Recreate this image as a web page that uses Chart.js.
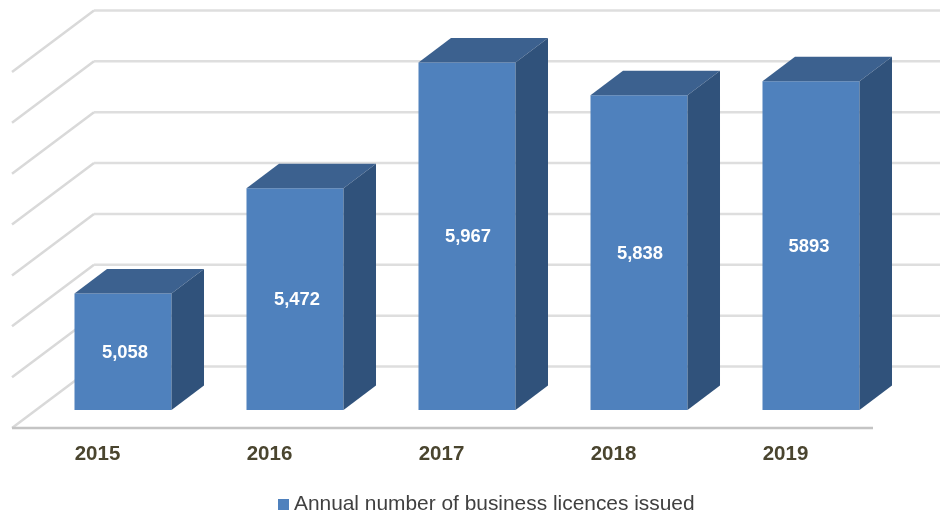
<!DOCTYPE html>
<html>
<head>
<meta charset="utf-8">
<title>Annual number of business licences issued</title>
<script src="https://cdn.jsdelivr.net/npm/chart.js@4"></script>
<style>
    html, body { margin: 0; padding: 0; background: #ffffff; }
    canvas { display: block; }
</style>
</head>
<body>
<canvas id="licencesChart" width="940" height="512"></canvas>
<script>
// Chart data
const years = ["2015", "2016", "2017", "2018", "2019"];
const licences = [5058, 5472, 5967, 5838, 5893];
const licenceLabels = ["5,058", "5,472", "5,967", "5,838", "5893"];
const seriesName = "Annual number of business licences issued";

// Fake 3D look
const barDepthX = 32.5, barDepthY = 24.5;
const wallDepthX = 82, wallDepthY = 61.5;
const wallLift = 43.5; // back wall sits this far above the plane of the bars
const labelNudge = [2, 2, 1, 1, -2];

function fillShape(ctx, color, points) {
    ctx.fillStyle = color;
    ctx.beginPath();
    points.forEach((p, i) => i ? ctx.lineTo(p[0], p[1]) : ctx.moveTo(p[0], p[1]));
    ctx.closePath();
    ctx.fill();
}

function strokeLine(ctx, color, width, points) {
    ctx.strokeStyle = color;
    ctx.lineWidth = width;
    ctx.beginPath();
    points.forEach((p, i) => i ? ctx.lineTo(p[0], p[1]) : ctx.moveTo(p[0], p[1]));
    ctx.stroke();
}

// Legend square: an image lets the text sit closer to it than Chart.js normally allows
const legendMarker = document.createElement("canvas");
legendMarker.width = 11;
legendMarker.height = 11;
const markerCtx = legendMarker.getContext("2d");
markerCtx.fillStyle = "#4f81bd";
markerCtx.fillRect(0, 0, 11, 11);

const walls3d = {
    id: "walls3d",
    beforeDatasetsDraw(chart) {
        const { ctx, scales: { y }, chartArea } = chart;
        const cornerX = chartArea.left + 57;
        ctx.save();
        y.ticks.forEach(tick => {
            const backY = y.getPixelForValue(tick.value) - wallLift;
            const isFloor = tick.value === y.min;
            strokeLine(ctx, "#d9d9d9", 2.5, [[cornerX - wallDepthX, backY + wallDepthY], [cornerX, backY]]);
            strokeLine(ctx, "#dedede", 2.5, [[cornerX, backY], [chart.width, backY]]);
            if (isFloor) {
                // front edge of the floor
                strokeLine(ctx, "#c4c4c4", 2.5, [[cornerX - wallDepthX, backY + wallDepthY], [873, backY + wallDepthY]]);
            }
        });
        ctx.restore();
    },
    afterDatasetsDraw(chart) {
        const { ctx } = chart;
        const bars = chart.getDatasetMeta(0).data;
        ctx.save();
        bars.forEach((bar, i) => {
            const half = bar.width / 2;
            const l = bar.x - half, r = bar.x + half, t = bar.y, b = bar.base;
            fillShape(ctx, "#3c618f", [[l, t], [l + barDepthX, t - barDepthY], [r + barDepthX, t - barDepthY], [r, t]]);
            fillShape(ctx, "#30527b", [[r, t], [r + barDepthX, t - barDepthY], [r + barDepthX, b - barDepthY], [r, b]]);

            ctx.fillStyle = "#ffffff";
            ctx.font = "bold 18.4px 'Liberation Sans'";
            ctx.textAlign = "center";
            ctx.textBaseline = "middle";
            ctx.fillText(licenceLabels[i], bar.x + labelNudge[i], (t + b) / 2 + 1);
        });
        ctx.restore();
    },
    afterLayout(chart) {
        // legend is not centred on the canvas in the original
        chart.legend.left += 22;
        chart.legend.right += 22;
        chart.legend.top += 13;
        chart.legend.bottom += 13;
    }
};

new Chart(document.getElementById("licencesChart"), {
    type: "bar",
    data: {
        labels: years,
        datasets: [{
            label: seriesName,
            data: licences,
            backgroundColor: "#4f81bd",
            categoryPercentage: 1,
            barPercentage: 0.564,
            base: 4600
        }]
    },
    options: {
        responsive: false,
        animation: false,
        layout: { padding: { left: 37, right: 43, top: 54, bottom: 0 } },
        plugins: {
            tooltip: { enabled: false },
            legend: {
                position: "bottom",
                labels: {
                    usePointStyle: true,
                    pointStyle: legendMarker,
                    pointStyleWidth: 0.1,
                    boxHeight: 11,
                    padding: 8,
                    color: "#404040",
                    font: { family: "'Liberation Sans'", size: 20.9 }
                }
            }
        },
        scales: {
            x: {
                grid: { display: false },
                border: { display: false },
                ticks: {
                    labelOffset: -25.5,
                    padding: 24,
                    maxRotation: 0,
                    autoSkip: false,
                    color: "#4a452f",
                    font: { family: "'Liberation Sans'", size: 20.5, weight: "bold" }
                },
                afterFit(scale) { scale.height = 63; }
            },
            y: {
                display: false,
                min: 4600,
                max: 6000,
                ticks: { stepSize: 200 }
            }
        }
    },
    plugins: [walls3d]
});
</script>
</body>
</html>
